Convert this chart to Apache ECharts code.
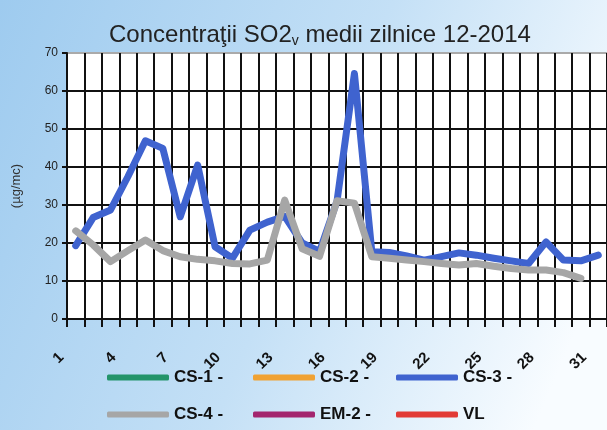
<!DOCTYPE html>
<html>
<head>
<meta charset="utf-8">
<script src="https://cdn.jsdelivr.net/npm/echarts@6/dist/echarts.min.js"></script>
<style>
  html, body { margin: 0; padding: 0; }
  #chart { width: 607px; height: 430px; }
</style>
</head>
<body>
<div id="chart"></div>
<script>
const days = ['1', '2', '3', '4', '5', '6', '7', '8', '9', '10', '11', '12', '13', '14', '15', '16',
  '17', '18', '19', '20', '21', '22', '23', '24', '25', '26', '27', '28', '29', '30', '31'];

const cs3 = [19.3, 26.7, 28.7, 37.5, 46.9, 44.9, 26.9, 40.5, 19, 16, 23.4, 25.5, 27, 20, 17.8, 31,
  64.6, 17.7, 17.5, 16.6, 15.5, 16.4, 17.4, 16.8, 16, 15.3, 14.6, 20.3, 15.5, 15.3, 16.8];

const cs4 = [23.2, 19.5, 15.1, 18, 20.8, 18, 16.4, 15.7, 15.3, 14.6, 14.5, 15.5, 31.3, 18.5, 16.5, 31.1,
  30.5, 16.4, 16, 15.5, 15.1, 14.6, 14.2, 14.6, 13.9, 13.3, 12.9, 12.9, 12.2, 10.7, null];

const yTicks = { min: 0, max: 70, interval: 10 };

const seriesNames = ['CS-1 -', 'CS-2 -', 'CS-3 -', 'CS-4 -', 'EM-2 -', 'VL'];

const font = '"Liberation Sans", Arial, sans-serif';

const myChart = echarts.init(document.getElementById('chart'));

// one legend per entry, laid out as a 3 x 2 grid
const legendCols = [107, 253, 396];
const legendRows = [369, 406];
const legends = seriesNames.map((name, i) => ({
    data: [name],
    left: legendCols[i % 3],
    top: legendRows[Math.floor(i / 3)],
    padding: 0,
    itemWidth: 62,
    itemHeight: 6,
    icon: 'roundRect',
    textStyle: { fontFamily: font, fontSize: 17, fontWeight: 'bold', color: '#111' }
}));

const option = {
    backgroundColor: new echarts.graphic.LinearGradient(0, 0, 1, 0.6, [
        { offset: 0, color: '#9ecbef' },
        { offset: 0.55, color: '#c4e0f6' },
        { offset: 1, color: '#f8fcff' }
    ]),
    textStyle: { fontFamily: font },
    title: {
        text: 'Concentraţii SO2{sub|v} medii zilnice 12-2014',
        left: 104,
        top: 17,
        textStyle: {
            fontFamily: font,
            fontSize: 24,
            fontWeight: 'normal',
            color: '#222',
            rich: {
                sub: { fontFamily: font, fontSize: 14, color: '#222', verticalAlign: 'bottom', padding: [12, 0, 0, 0] }
            }
        }
    },
    legend: legends,
    grid: {
        left: 67,
        right: -2.5,
        top: 53,
        bottom: 111,
        show: true,
        backgroundColor: '#ffffff',
        borderWidth: 0
    },
    xAxis: {
        type: 'category',
        data: days,
        boundaryGap: true,
        axisLine: { lineStyle: { color: '#111', width: 2 } },
        axisTick: { show: true, interval: 0, length: 8, lineStyle: { color: '#111', width: 2 } },
        splitLine: { show: true, interval: 0, lineStyle: { color: '#111', width: 2 } },
        axisLabel: {
            interval: 2,
            rotate: 45,
            margin: 22,
            padding: [0, 20, 0, 0],
            fontFamily: font,
            fontSize: 15,
            fontWeight: 'bold',
            color: '#111'
        }
    },
    yAxis: {
        type: 'value',
        min: yTicks.min,
        max: yTicks.max,
        interval: yTicks.interval,
        name: '(µg/mc)',
        nameLocation: 'middle',
        nameRotate: 90,
        nameGap: 44,
        nameTextStyle: { fontFamily: font, fontSize: 13, color: '#333' },
        axisLine: { show: true, lineStyle: { color: '#111', width: 2 } },
        axisTick: { show: true, length: 5, lineStyle: { color: '#111', width: 2 } },
        splitLine: {
            show: true,
            lineStyle: {
                color: ['#111', '#111', '#111', '#111', '#111', '#111', '#111', '#aaa'],
                width: 2
            }
        },
        axisLabel: { margin: 9, fontFamily: font, fontSize: 12, color: '#222' }
    },
    series: [
        { name: seriesNames[0], type: 'line', data: [], color: '#23946a' },
        { name: seriesNames[1], type: 'line', data: [], color: '#f0a233' },
        {
            name: seriesNames[2],
            type: 'line',
            data: cs3,
            color: '#3f63cf',
            showSymbol: false,
            lineStyle: { width: 7, join: 'round', cap: 'round' },
            z: 3
        },
        {
            name: seriesNames[3],
            type: 'line',
            data: cs4,
            color: '#a6a6a6',
            showSymbol: false,
            lineStyle: { width: 7, join: 'round', cap: 'round' },
            z: 4
        },
        { name: seriesNames[4], type: 'line', data: [], color: '#a3256e' },
        { name: seriesNames[5], type: 'line', data: [], color: '#e23a35' }
    ]
};

myChart.setOption(option);
</script>
</body>
</html>
